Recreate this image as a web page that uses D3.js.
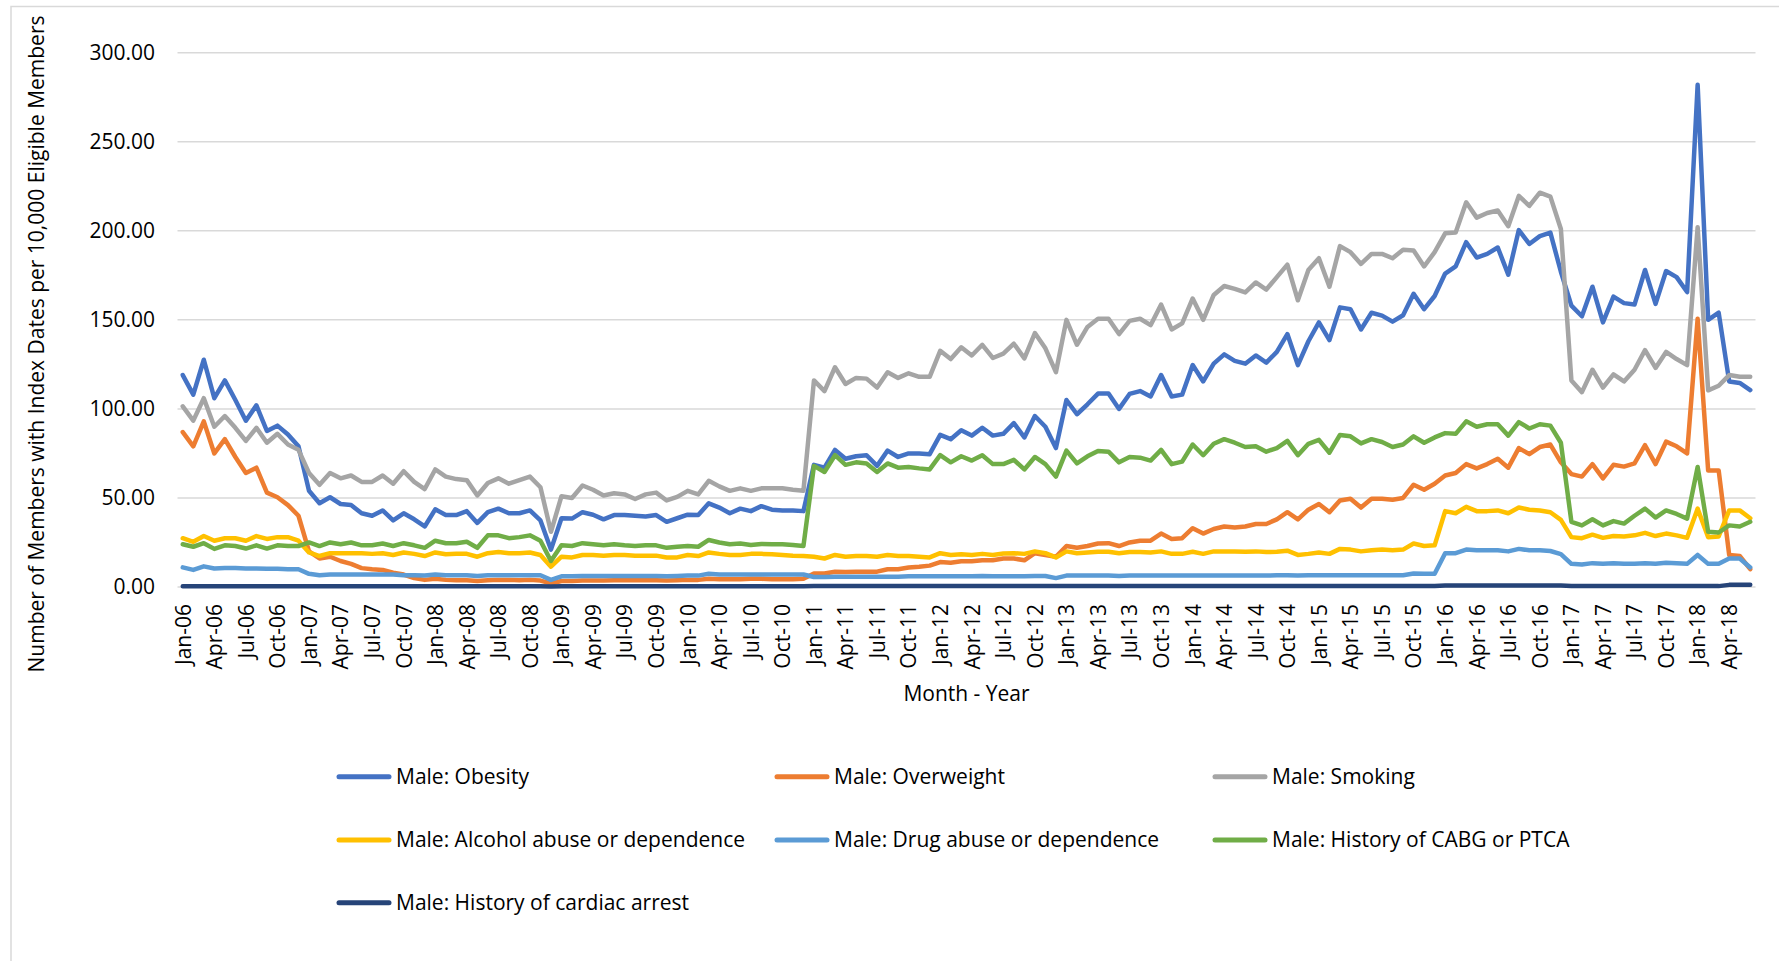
<!DOCTYPE html>
<html>
<head>
<meta charset="utf-8">
<script src="https://cdn.jsdelivr.net/npm/d3@7"></script>
<style>
  html, body { margin: 0; padding: 0; background: #fff; }
  svg { display: block; }
  text { font-family: "Open Sans", "Segoe UI", sans-serif; fill: #000; }
</style>
</head>
<body>
<svg id="chart" width="1779" height="961"></svg>
<script>
// ---- categories ----
const monthNames = ["Jan","Feb","Mar","Apr","May","Jun","Jul","Aug","Sep","Oct","Nov","Dec"];
const yearLabels = ["06","07","08","09","10","11","12","13","14","15","16","17","18"];
const categories = [];
yearLabels.forEach(y => monthNames.forEach(m => categories.push(m + "-" + y)));
categories.length = 150; // Jan-06 .. Jun-18
const yTicks = [0, 50, 100, 150, 200, 250, 300];

// ---- series values ----
const obesity = [
  119,108,127.6,106,116,105,93.4,102,87.6,90.6,85.6,79,54,47,50.4,46.6,46,41.4,40,43,37.4,41.4,38,34,43.6,40.4,
  40.4,42.6,36,42,44,41.4,41.4,43,37.4,21,38.6,38.4,42,40.6,38,40.4,40.4,40,39.6,40.4,36.6,38.6,40.6,40.4,47,44.6,
  41.4,44,42.6,45.4,43.4,43,43,42.6,68.6,67,77,72,73.4,74,68,76.6,73,75,75,74.6,85.4,83,88,85,89.4,85,86,
  92,84,96,90,78,105,97,102.6,108.6,108.6,100,108.4,110,107,119,107,108,124.6,115.4,125.4,130.6,127,125.4,130,126,132,142,
  124.6,138,148.6,138.6,157,156,144.6,154,152.4,149,152.6,164.6,156,163.4,176,180,193.6,185,187,190.6,175.4,200.4,192.6,197,199,177,
  158,152,168.6,148.6,163,159.4,158.6,178,159,177.4,174,165.6,282,150,154,115.4,114.6,110.6
];
const overweight = [
  87,79,93,75,83,73,64,67,53,50.4,46,40,20,16,17,14.6,13,10.6,10,9.6,8,7,5,4,4.6,4,
  3.8,3.8,3.4,3.8,4,4,3.8,4,3.6,2,3.4,3.4,3.6,3.6,3.6,3.8,3.8,3.8,3.8,3.8,3.6,3.8,4,4,4.6,4.4,
  4.4,4.4,4.6,4.6,4.4,4.4,4.4,4.6,7.6,7.6,8.6,8.4,8.6,8.6,8.6,10,10,11,11.4,12,14,13.6,14.4,14.4,15,15,16,
  16,15,19,18,17,23,22,23,24.4,24.6,23,25,26,26,30,27,27.4,33,30,32.6,34,33.4,34,35.4,35.4,38,42,
  38,43.4,46.6,42,48.6,49.6,44.6,49.6,49.6,49,50,57.4,54.6,58,62.6,64,69,66.6,69,72,67,78,74.6,78.6,80,70,
  63.4,62,69,61,68.6,67.6,69.4,79.6,69,81.6,79,75,150.6,65.4,65.4,18,17.4,10
];
const smoking = [
  101.4,93.4,106,90,96,89.4,82,89.4,81,86,80,77,64,57.4,64,61,62.6,59,59,62.6,58,65,59,55,66,62,
  60.6,60,51.4,58.4,61,58,60,62,56,31,51,50,57,54.6,51.4,52.6,52,49.4,52,53,48.6,50.6,54,52,59.6,56.5,
  54,55.4,54,55.4,55.4,55.4,54.6,54,116,110,123.4,114,117.4,117,112,120.6,117.4,120,118,118,132.6,128,134.6,130,136,128.6,131,
  136.6,128.4,142.6,134,120.6,150,136,146,150.6,150.6,142,149.4,150.6,147,158.6,144.6,148,162,150,164,169,167.4,165.4,171,167,174,181,
  161,178,184.6,168.6,191.4,188,181.4,187,187,184.6,189.4,189,180,188,198.6,199,216,207.4,210,211.4,202.6,219.6,214,221.4,219.2,201,
  116,109.4,122,112,119.4,115.4,122,133,123,132,128,124.6,202,110.4,113,119,118,118
];
const alcohol = [
  27.4,25.4,28.6,26,27.4,27.4,26,28.6,27,28,28,26,19.4,17.4,19,19,19,19,18.6,19,18,19.4,18.6,17.4,19.4,18.4,
  18.6,18.6,17,19,19.6,19,19,19.4,18,11.4,17,16.6,18,18,17.6,18,18,17.6,17.6,17.6,16.6,16.6,18,17.4,19.4,18.6,
  18,18,18.6,18.6,18.4,18,17.6,17.4,17,16,18,17,17.4,17.4,17,18,17.4,17.4,17,16.6,19,18,18.4,18,18.6,18,18.8,
  19,18.6,20,19,16.6,20,19,19.4,19.8,19.8,19,19.6,19.6,19.4,20,18.6,18.6,19.8,18.6,20,20,20,19.8,20,19.6,19.8,20.4,
  18,18.6,19.4,18.6,21.4,21,20,20.6,21,20.6,21,24.4,23,23.4,42.6,41.4,45,42.6,42.6,43,41.4,44.6,43.4,43,42,37.7,
  28,27.4,29.4,27.6,28.6,28.4,29,30.4,28.6,30,29,27.6,44,28,28.4,43,43,38.6
];
const drug = [
  11,9.6,11.6,10.4,10.6,10.6,10.4,10.4,10.2,10.2,10,10,7.4,6.6,7,7,7,7,7,7,7,6.6,6.6,6.4,7,6.6,
  6.6,6.6,6.2,6.6,6.6,6.6,6.6,6.6,6.6,4,6,6,6.2,6.2,6.2,6.2,6.2,6.2,6.2,6.2,6,6.2,6.4,6.4,7.4,7,
  7,7,7,7,7,7,7,7,5.6,5.6,5.8,5.8,5.8,5.8,5.8,5.8,5.8,6,6,6,6,6,6,6,6.2,6,6,
  6,6,6.2,6.2,5,6.4,6.4,6.4,6.4,6.4,6.2,6.4,6.4,6.4,6.4,6.4,6.4,6.4,6.4,6.4,6.4,6.4,6.4,6.4,6.4,6.6,6.6,
  6.4,6.6,6.6,6.6,6.6,6.6,6.6,6.6,6.6,6.6,6.6,7.6,7.4,7.4,19,19,21,20.6,20.6,20.6,20,21.4,20.6,20.6,20.2,18.5,
  13,12.6,13.4,13,13.4,13,13,13.4,13,13.6,13.4,13,18,13,13,16,16,11
];
const cabg = [
  24,22.6,24.6,21.4,23.4,23,21.6,23.4,21.6,23.4,23,23,25,23,25,24,25,23.4,23.4,24.4,23,24.6,23.4,22,26,24.6,
  24.6,25.4,22,29,29,27.4,28,29,26,14.6,23.4,23,24.6,24,23.4,24,23.4,23,23.4,23.4,22,22.6,23,22.6,26.4,25,
  24,24.4,23.6,24.2,24,24,23.6,23,68,64.6,74,68.6,70,69.4,64.6,69.4,67,67.4,66.6,66,74,70,73.4,71,74,69,69,
  71.4,66,73,69,62,76.6,69.4,73.4,76.4,76,70,73,72.6,71,77,69,70.4,80,74,80.4,83,81,78.6,79,76,78,82,
  74,80.4,82.6,75.4,85.4,84.6,80.6,83,81.4,78.6,80,84.6,81,84,86.4,86,93,90,91.4,91.4,85,92.6,89,91.4,90.6,81,
  36.6,34.6,38,34.6,37,35.6,40,44,39,43,41,38.4,67.4,31,30.6,34.6,34,36.6
];
const cardiac = [
  0.4,0.4,0.4,0.4,0.4,0.4,0.4,0.4,0.4,0.4,0.4,0.4,0.4,0.4,0.4,0.4,0.4,0.4,0.4,0.4,0.4,0.4,0.4,0.4,0.4,0.4,
  0.4,0.4,0.4,0.4,0.4,0.4,0.4,0.4,0.4,0.3,0.4,0.4,0.4,0.4,0.4,0.4,0.4,0.4,0.4,0.4,0.4,0.4,0.4,0.4,0.4,0.4,
  0.4,0.4,0.4,0.4,0.4,0.4,0.4,0.4,0.5,0.5,0.5,0.5,0.5,0.5,0.5,0.5,0.5,0.5,0.5,0.5,0.5,0.5,0.5,0.5,0.5,0.5,0.5,
  0.5,0.5,0.5,0.5,0.5,0.5,0.5,0.5,0.5,0.5,0.5,0.5,0.5,0.5,0.5,0.5,0.5,0.5,0.5,0.5,0.5,0.5,0.5,0.5,0.5,0.5,0.5,
  0.5,0.5,0.5,0.5,0.5,0.5,0.5,0.5,0.5,0.5,0.5,0.5,0.5,0.6,0.9,0.9,0.9,0.9,0.9,0.9,0.9,0.9,0.9,0.9,0.9,0.8,
  0.5,0.5,0.5,0.5,0.5,0.5,0.5,0.5,0.5,0.5,0.5,0.5,0.6,0.5,0.5,1.2,1.2,1.2
];

const seriesNames = [
  "Male: Obesity", "Male: Overweight", "Male: Smoking",
  "Male: Alcohol abuse or dependence", "Male: Drug abuse or dependence", "Male: History of CABG or PTCA",
  "Male: History of cardiac arrest"
];
const seriesValues = [obesity, overweight, smoking, alcohol, drug, cabg, cardiac];
const seriesColors = ["#4472C4", "#ED7D31", "#A5A5A5", "#FFC000", "#5B9BD5", "#70AD47", "#264478"];

// ---- layout ----
const W = 1779, H = 961;
const plot = { left: 177.5, right: 1755.5, top: 52.7, bottom: 587 };

const svg = d3.select("#chart");
svg.append("rect").attr("x", 0).attr("y", 0).attr("width", W).attr("height", H).attr("fill", "#fff");
svg.append("rect").attr("x", 11).attr("y", 6.5).attr("width", W + 20).attr("height", H + 20)
  .attr("fill", "none").attr("stroke", "#d9d9d9").attr("stroke-width", 1.5);

const x = d3.scalePoint().domain(categories).range([plot.left, plot.right]).padding(0.5);
const y = d3.scaleLinear().domain([0, 300]).range([plot.bottom, plot.top]);

// gridlines
svg.append("g").selectAll("line").data(yTicks).join("line")
  .attr("x1", plot.left).attr("x2", plot.right)
  .attr("y1", d => y(d)).attr("y2", d => y(d))
  .attr("stroke", "#d9d9d9").attr("stroke-width", 1.5);

// y axis labels
const yAxis = d3.axisLeft(y).tickValues(yTicks).tickFormat(d3.format(".2f")).tickSize(0).tickPadding(0);
const gy = svg.append("g").attr("transform", `translate(155,0)`).call(yAxis);
gy.select(".domain").remove();
gy.selectAll("text").attr("font-size", 21).attr("fill", "#000").attr("font-family", '"Open Sans", sans-serif');

// x axis labels
const xTickVals = categories.filter((c, i) => i % 3 === 0);
const xAxis = d3.axisBottom(x).tickValues(xTickVals).tickSize(0).tickPadding(0);
const gx = svg.append("g").attr("transform", `translate(0,${plot.bottom})`).call(xAxis);
gx.select(".domain").remove();
gx.selectAll("text")
  .attr("font-size", 21).attr("fill", "#000").attr("font-family", '"Open Sans", sans-serif')
  .attr("text-anchor", "end")
  .attr("transform", "rotate(-90)")
  .attr("x", -17).attr("y", 0).attr("dy", "0.35em");

// lines
const line = d3.line().x((d, i) => x(categories[i])).y(d => y(d));
seriesValues.forEach((vals, k) => {
  svg.append("path").datum(vals)
    .attr("d", line)
    .attr("fill", "none")
    .attr("stroke", seriesColors[k])
    .attr("stroke-width", 4.5)
    .attr("stroke-linejoin", "round")
    .attr("stroke-linecap", "round");
});

// axis titles
svg.append("text")
  .attr("transform", "translate(37,344) rotate(-90)")
  .attr("text-anchor", "middle").attr("dy", "0.35em")
  .attr("font-size", 21)
  .text("Number of Members with Index Dates per 10,000 Eligible Members");
svg.append("text")
  .attr("x", 966.5).attr("y", 700.5)
  .attr("text-anchor", "middle")
  .attr("font-size", 21)
  .text("Month - Year");

// legend
const legendCols = [339, 777, 1215];
const legendRows = [776.7, 840, 902.7];
const lg = svg.append("g");
seriesNames.forEach((name, k) => {
  const cx = legendCols[k % 3], cy = legendRows[Math.floor(k / 3)];
  lg.append("line").attr("x1", cx).attr("x2", cx + 50).attr("y1", cy).attr("y2", cy)
    .attr("stroke", seriesColors[k]).attr("stroke-width", 5).attr("stroke-linecap", "round");
  lg.append("text").attr("x", cx + 57).attr("y", cy).attr("dy", "0.35em")
    .attr("font-size", 21).text(name);
});
</script>
</body>
</html>
